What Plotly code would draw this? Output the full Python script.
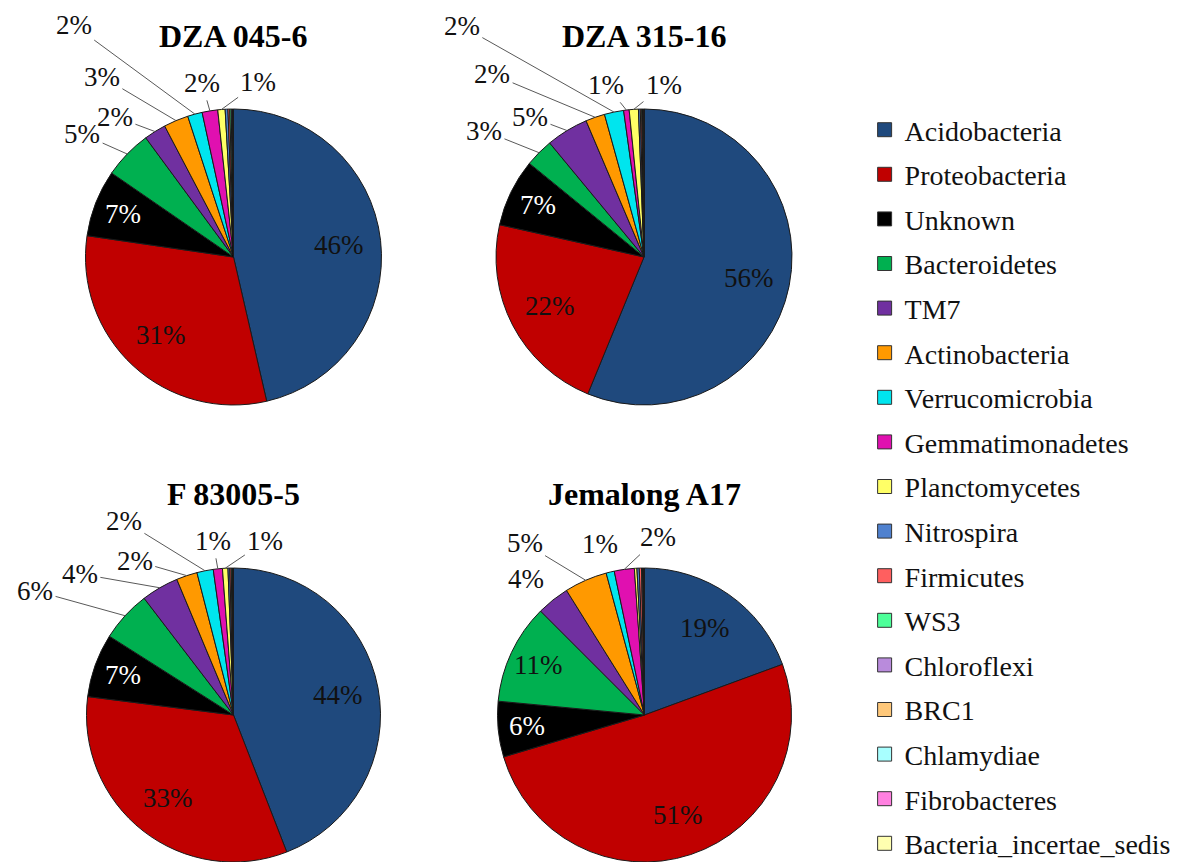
import math
import plotly.graph_objects as go

categories = ["Acidobacteria", "Proteobacteria", "Unknown", "Bacteroidetes", "TM7",
              "Actinobacteria", "Verrucomicrobia", "Gemmatimonadetes", "Planctomycetes",
              "Nitrospira", "Firmicutes", "WS3", "Chloroflexi", "BRC1", "Chlamydiae",
              "Fibrobacteres", "Bacteria_incertae_sedis"]

colors = ["#1F497D", "#C00000", "#000000", "#00B050", "#7030A0", "#FF9900", "#00E5EE",
          "#E010B0", "#FFFF66", "#4F81CF", "#FF5F5F", "#4DFF99", "#B98BDC", "#FFC87A",
          "#A8FFFF", "#FF80E0", "#FFFFB0"]

titles = ["DZA 045-6", "DZA 315-16", "F 83005-5", "Jemalong A17"]

dza045 = [46.4, 30.9, 7.3, 5.3, 2.4, 2.7, 1.6, 1.7, 0.8, 0.3, 0.2, 0.15, 0.1, 0.05, 0.05, 0.03, 0.02]
dza315 = [56.2, 22.3, 7.4, 3.1, 4.6, 2.1, 2.1, 0.6, 1.0, 0.2, 0.15, 0.1, 0.05, 0.04, 0.03, 0.02, 0.01]
f83005 = [44.1, 32.9, 7.0, 5.6, 4.1, 2.3, 1.8, 1.0, 0.6, 0.2, 0.15, 0.1, 0.05, 0.04, 0.03, 0.02, 0.01]
jemalong = [19.4, 51.0, 6.1, 11.0, 3.6, 4.7, 0.9, 2.2, 0.28, 0.25, 0.25, 0.1, 0.1, 0.05, 0.03, 0.02, 0.02]

series = [dza045, dza315, f83005, jemalong]

# ---- layout / styling (not data) ----
W, H = 1177, 862
boxes = [(84, 383, 109, 405), (495, 793, 109, 405), (84, 383, 568, 862), (496, 793, 568, 862)]
title_y = [36, 36, 494, 494]
inside_slices = [[0, 1, 2], [0, 1, 2], [0, 1, 2], [0, 1, 2, 3]]
# outside labels: slice index -> (dx, dy, draw leader line)
outside_labels = [
    {3: (-45, -20, True), 4: (-40, -15, True), 5: (-74, -44, True), 6: (-121, -89, True),
     7: (-8, -28, True), 8: (37, -27, True)},
    {3: (-55, -22, True), 4: (-37, -14, True), 5: (-103, -43, True), 6: (-152, -86, True),
     7: (-20, -25, True), 8: (30, -24, True)},
    {3: (-90, -25, True), 4: (-80, -14, True), 5: (-52, -15, True), 6: (-81, -50, True),
     7: (-5, -28, True), 8: (40, -27, True)},
    {4: (-27, -21, False), 5: (-61, -37, True), 6: (-10, -28, False), 7: (34, -32, True)},
]

FONT = "Liberation Serif, Times New Roman, serif"
LABEL_SIZE = 27

fig = go.Figure()
for k, vals in enumerate(series):
    l, r, t, b = boxes[k]
    fig.add_trace(go.Pie(
        labels=categories, values=vals, sort=False, direction="clockwise", rotation=0,
        marker=dict(colors=colors, line=dict(color="#1a1a1a", width=1)),
        textinfo="none",
        domain=dict(x=[l / W, r / W], y=[1 - b / H, 1 - t / H]),
        showlegend=False, hoverinfo="label+percent",
    ))
    fig.add_annotation(text="<b>%s</b>" % titles[k], x=(l + r) / 2 / W,
                       y=1 - title_y[k] / H, xref="paper", yref="paper",
                       showarrow=False, font=dict(family=FONT, size=32, color="black"),
                       xanchor="center", yanchor="middle")

    # pie geometry as plotly computes it
    cx = (l + r) / 2
    cy = (t + b) / 2
    rad = min(r - l, b - t) / 2
    total = sum(vals)
    cum = 0.0
    for i, v in enumerate(vals):
        mid = 360.0 * (cum + v / 2) / total
        cum += v
        label = "%d%%" % round(100 * v / total)
        s, c = math.sin(math.radians(mid)), math.cos(math.radians(mid))
        if i in inside_slices[k]:
            rho = (0.72 if v / total > 0.15 else 0.8) * rad
            px, py = cx + rho * s, cy - rho * c
            fig.add_annotation(text=label, x=px / W, y=1 - py / H, xref="paper", yref="paper",
                               showarrow=False, xanchor="center", yanchor="middle",
                               font=dict(family=FONT, size=LABEL_SIZE,
                                         color="white" if colors[i] == "#000000" else "#111111"))
        elif i in outside_labels[k]:
            dx, dy, line = outside_labels[k][i]
            ax_, ay_ = cx + rad * s, cy - rad * c
            if line:
                fig.add_annotation(text=label, x=ax_ / W, y=1 - ay_ / H, xref="paper", yref="paper",
                                   showarrow=True, ax=dx, ay=dy, arrowhead=0, arrowwidth=1,
                                   arrowcolor="#595959", standoff=0, startstandoff=1,
                                   font=dict(family=FONT, size=LABEL_SIZE, color="#111111"))
            else:
                fig.add_annotation(text=label, x=(ax_ + dx) / W, y=1 - (ay_ + dy) / H,
                                   xref="paper", yref="paper", showarrow=False,
                                   xanchor="center", yanchor="middle",
                                   font=dict(family=FONT, size=LABEL_SIZE, color="#111111"))

for name, col in zip(categories, colors):
    fig.add_trace(go.Scatter(
        x=[None], y=[None], mode="markers", name=name, legendgroup=name,
        marker=dict(symbol="square", size=14, color=col, line=dict(color="#333333", width=1)),
    ))

fig.update_layout(
    width=W, height=H, margin=dict(l=0, r=0, t=0, b=0, autoexpand=False),
    paper_bgcolor="white", plot_bgcolor="white",
    xaxis=dict(visible=False), yaxis=dict(visible=False),
    legend=dict(x=0.7346, y=1 - 105 / H, xanchor="left", yanchor="top",
                font=dict(family=FONT, size=28, color="#111111"),
                tracegroupgap=5.2, itemwidth=30, bgcolor="rgba(0,0,0,0)"),
)

fig.write_html("out.html", config={"displayModeBar": False},
               post_script="document.body.style.margin='0';document.body.style.overflow='hidden';")
